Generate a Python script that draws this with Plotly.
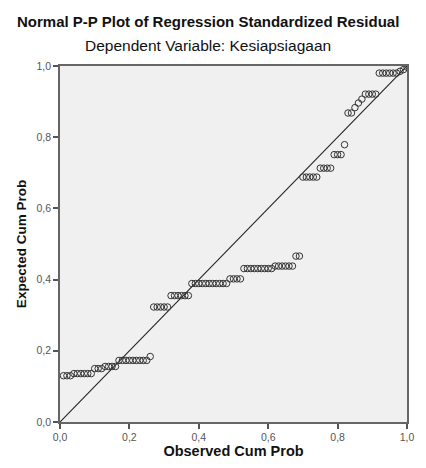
import plotly.graph_objects as go

# Observed cumulative probability (x) and expected cumulative probability (y)
observed_cum_prob = [
    0.01, 0.02, 0.03,
    0.04, 0.05, 0.06, 0.07, 0.08, 0.09,
    0.10, 0.11, 0.12,
    0.13, 0.14, 0.15, 0.16,
    0.17, 0.18, 0.19, 0.20, 0.21, 0.22, 0.23, 0.24, 0.25,
    0.26,
    0.27, 0.28, 0.29, 0.30, 0.31,
    0.32, 0.33, 0.34, 0.35, 0.36, 0.37,
    0.38, 0.39, 0.40, 0.41, 0.42, 0.43, 0.44, 0.45, 0.46, 0.47, 0.48,
    0.49, 0.50, 0.51, 0.52,
    0.53, 0.54, 0.55, 0.56, 0.57, 0.58, 0.59, 0.60, 0.61,
    0.62, 0.63, 0.64, 0.65, 0.66, 0.67,
    0.68, 0.69,
    0.70, 0.71, 0.72, 0.73, 0.74,
    0.75, 0.76, 0.77, 0.78,
    0.79, 0.80, 0.81,
    0.82,
    0.83, 0.84,
    0.85,
    0.86,
    0.87,
    0.88, 0.89, 0.90, 0.91,
    0.92, 0.93, 0.94, 0.95, 0.96, 0.97,
    0.98, 0.99, 1.00,
]
expected_cum_prob = [
    0.130, 0.130, 0.130,
    0.136, 0.136, 0.136, 0.136, 0.136, 0.136,
    0.150, 0.150, 0.150,
    0.156, 0.156, 0.156, 0.156,
    0.173, 0.173, 0.173, 0.173, 0.173, 0.173, 0.173, 0.173, 0.173,
    0.184,
    0.323, 0.323, 0.323, 0.323, 0.323,
    0.355, 0.355, 0.355, 0.355, 0.355, 0.355,
    0.389, 0.389, 0.389, 0.389, 0.389, 0.389, 0.389, 0.389, 0.389, 0.389, 0.389,
    0.402, 0.402, 0.402, 0.402,
    0.431, 0.431, 0.431, 0.431, 0.431, 0.431, 0.431, 0.431, 0.431,
    0.438, 0.438, 0.438, 0.438, 0.438, 0.438,
    0.466, 0.466,
    0.688, 0.688, 0.688, 0.688, 0.688,
    0.713, 0.713, 0.713, 0.713,
    0.751, 0.751, 0.751,
    0.779,
    0.868, 0.868,
    0.883,
    0.896,
    0.907,
    0.921, 0.921, 0.921, 0.921,
    0.980, 0.980, 0.980, 0.980, 0.980, 0.980,
    0.985, 0.990, 0.997,
]

tick_vals = [0.0, 0.2, 0.4, 0.6, 0.8, 1.0]
tick_text = ["0,0", "0,2", "0,4", "0,6", "0,8", "1,0"]
diag = [0.0, 1.0]

# The page body has an 8px default margin, so the figure is sized to fit in the
# remaining area of the 426x468 window.
W, H = 418, 460
ML, MR, MT, MB = 45, 16, 58, 45
plot_h = H - MT - MB
plot_w = W - ML - MR

fig = go.Figure()
fig.add_trace(go.Scatter(
    x=diag, y=diag, mode="lines",
    line=dict(color="#222222", width=1.1),
    hoverinfo="skip", showlegend=False,
))
fig.add_trace(go.Scatter(
    x=observed_cum_prob, y=expected_cum_prob, mode="markers",
    marker=dict(symbol="circle-open", size=6.5, color="#333333", line=dict(width=1)),
    showlegend=False,
))

axis_common = dict(
    range=[0, 1], tickvals=tick_vals, ticktext=tick_text,
    showgrid=False, zeroline=False,
    showline=True, linecolor="#666666", linewidth=1.5, mirror=True,
    ticks="outside", ticklen=5, tickwidth=1.5, tickcolor="#555555",
    tickfont=dict(family="Liberation Sans, Arial, sans-serif", size=10.5, color="#555555"),
)

fig.update_layout(
    width=W, height=H,
    margin=dict(l=ML, r=MR, t=MT, b=MB),
    paper_bgcolor="white", plot_bgcolor="#F0F0F0",
    font=dict(family="Liberation Sans, Arial, sans-serif", color="#111111"),
    xaxis=dict(**axis_common,
               title=dict(text="<b>Observed Cum Prob</b>", font=dict(size=14.5), standoff=3)),
    yaxis=dict(**axis_common,
               title=dict(text="<b>Expected Cum Prob</b>", font=dict(size=13.5), standoff=7)),
)

title_rows = [
    ("<b>Normal P-P Plot of Regression Standardized Residual</b>", 13, 15),
    ("Dependent Variable: Kesiapsiagaan", 37, 15.5),
]
for text, ypix, size in title_rows:
    fig.add_annotation(
        text=text, xref="paper", yref="paper",
        x=(205 - 8 - ML) / plot_w, y=(H - MB - ypix) / plot_h,
        xanchor="center", yanchor="middle", showarrow=False,
        font=dict(size=size, color="#111111"),
    )

fig.write_html("out.html")
